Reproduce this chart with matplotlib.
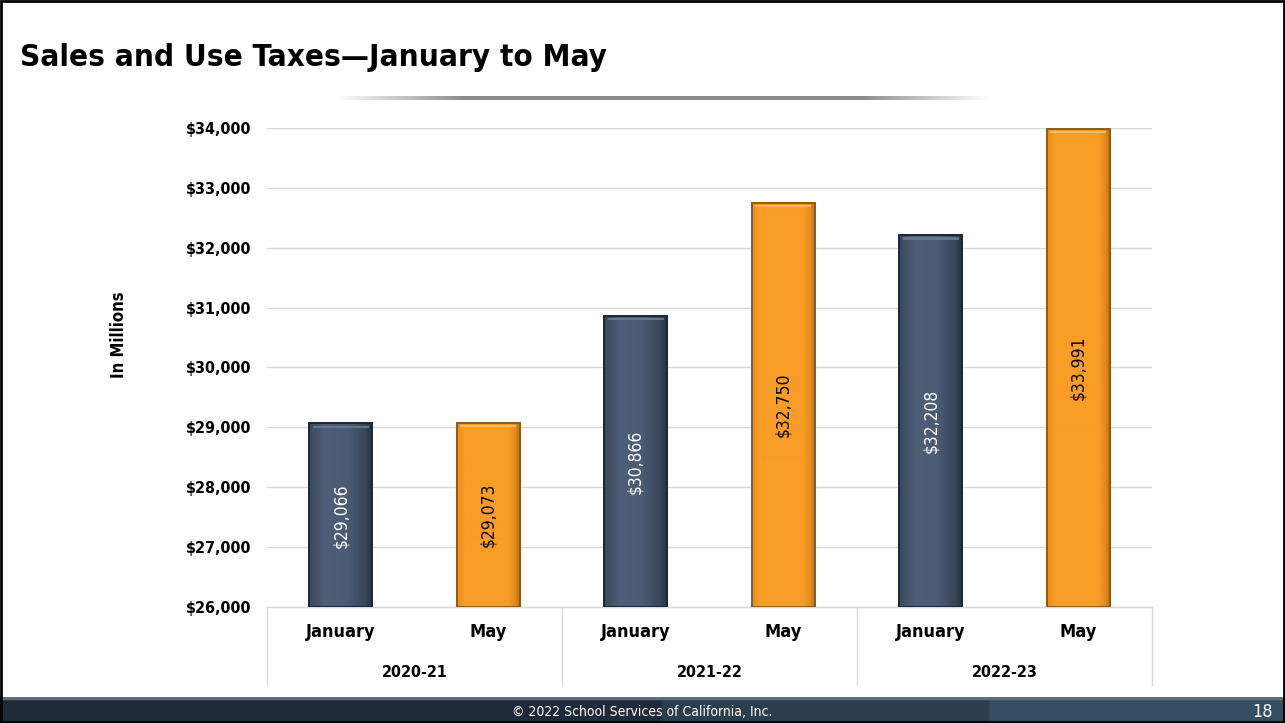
import matplotlib
matplotlib.use("Agg")
import matplotlib.pyplot as plt
from matplotlib import font_manager
import numpy as np
from matplotlib.patches import Rectangle
from matplotlib.colors import LinearSegmentedColormap

# Data
years = ["2020-21", "2021-22", "2022-23"]
months = ["January", "May"]
values = [29066, 29073, 30866, 32750, 32208, 33991]
value_labels = ["$29,066", "$29,073", "$30,866", "$32,750", "$32,208", "$33,991"]
yticks = [26000, 27000, 28000, 29000, 30000, 31000, 32000, 33000, 34000]
ytick_labels = ["$26,000", "$27,000", "$28,000", "$29,000", "$30,000",
                "$31,000", "$32,000", "$33,000", "$34,000"]

# prefer a narrow sans face when one is available
_installed = {(f.name, str(f.stretch)) for f in font_manager.fontManager.ttflist}
_names = {n for n, _ in _installed}
STRETCH = "normal"
if "Liberation Sans Narrow" in _names:
    FONT = ["Liberation Sans Narrow", "DejaVu Sans"]
elif ("DejaVu Sans", "condensed") in _installed or ("DejaVu Sans", "semi-condensed") in _installed:
    FONT = ["DejaVu Sans"]
    STRETCH = "condensed"
else:
    FONT = ["Liberation Sans", "DejaVu Sans"]
plt.rcParams["font.family"] = FONT
plt.rcParams["font.stretch"] = STRETCH

navy = "#4b5b71"
navy_edge = "#1e2836"
orange = "#f99d26"
orange_edge = "#8a5c22"
navy_cmap = LinearSegmentedColormap.from_list(
    "navy", [(0, "#3c495c"), (0.25, "#4d5e77"), (0.6, "#4a5b73"), (0.88, "#3a475a"), (1, "#243040")])
orange_cmap = LinearSegmentedColormap.from_list(
    "orng", [(0, "#e98c1c"), (0.12, "#f99d26"), (0.8, "#f99d26"), (0.92, "#e48a1d"), (1, "#b06f1e")])

fig = plt.figure(figsize=(12.85, 7.23), dpi=100)
fig.patch.set_facecolor("white")

ax = fig.add_axes([267 / 1285, 1 - 607 / 723, (1152 - 267) / 1285, (607 - 128) / 723])

x = np.arange(6) + 0.5
colors = [navy, orange] * 3
edges = [navy_edge, orange_edge] * 3
cmaps = [navy_cmap, orange_cmap] * 3
bars = ax.bar(x, [v - 26000 for v in values], bottom=26000, width=0.43,
              color=colors, edgecolor=edges, linewidth=1.4, zorder=3)

# shaded faces and a bevel highlight along the top of each bar
ramp = np.linspace(0, 1, 64)[None, :]
for b, c, cm, ec in zip(bars, colors, cmaps, edges):
    x0, w = b.get_x(), b.get_width()
    y0 = b.get_y()
    top = y0 + b.get_height()
    ax.imshow(ramp, cmap=cm, aspect="auto", extent=[x0, x0 + w, y0, top],
              zorder=3.1, interpolation="bilinear")
    hl = "#fbc060" if c == orange else "#6c7c92"
    ax.add_patch(Rectangle((x0 + 0.025, top - 75), w - 0.05, 40,
                           facecolor=hl, edgecolor="none", zorder=3.2, alpha=0.85))
    ax.add_patch(Rectangle((x0, y0), w, top - y0, fill=False, edgecolor=ec,
                           linewidth=1.4, zorder=3.3))

ax.set_xlim(0, 6)
ax.set_ylim(26000, 34000)

# values written inside bars
for xi, v, lab, c in zip(x, values, value_labels, colors):
    ax.text(xi, (26000 + v) / 2, lab, rotation=90, ha="center", va="center",
            fontsize=12.5, color="white" if c == navy else "black", zorder=5)

ax.set_yticks(yticks)
ax.set_yticklabels(ytick_labels, fontsize=11.5, fontweight="bold")
ax.tick_params(axis="y", length=0, pad=11)
ax.set_xticks([])
ax.grid(axis="y", color="#d9d9d9", linewidth=1, zorder=0)
for s in ["left", "right", "top"]:
    ax.spines[s].set_visible(False)
ax.spines["bottom"].set_color("#d9d9d9")
ax.spines["bottom"].set_linewidth(1)

# two-level category axis
tr = ax.get_xaxis_transform()
for gx in [0, 2, 4, 6]:
    ax.plot([gx, gx], [0, -0.163], transform=tr, color="#d9d9d9", linewidth=1, clip_on=False)
for i, xi in enumerate(x):
    ax.text(xi, -0.052, months[i % 2], transform=tr, ha="center", va="center",
            fontsize=13, fontweight="bold")
for j, yr in enumerate(years):
    ax.text(2 * j + 1, -0.136, yr, transform=tr, ha="center", va="center",
            fontsize=11.5, fontweight="bold")

ax.set_ylabel("In Millions", fontsize=12, fontweight="bold")
ax.yaxis.set_label_coords((128 - 267) / 885, (607 - 335) / 479)

# title and decorative rule
fig.text(20 / 1285, 1 - 58 / 723, "Sales and Use Taxes\u2014January to May",
         fontsize=22.5, fontweight="bold", ha="left", va="center")
rule = fig.add_axes([335 / 1285, 1 - 100 / 723, (990 - 335) / 1285, 4 / 723])
grad = np.concatenate([np.linspace(0.0, 1, 40), np.ones(120), np.linspace(1, 0.0, 40)])
rule.imshow(grad[None, :], aspect="auto",
            cmap=LinearSegmentedColormap.from_list("r", ["#ffffff", "#8c8c8c"]))
rule.axis("off")

# footer band
foot = fig.add_axes([0, 0, 1, 26 / 723])
fx = np.linspace(0, 1, 400)
fg = np.where(fx < 0.515, 0.0, np.where(fx < 0.77, 0.45, 0.85))
foot.imshow(fg[None, :], aspect="auto", extent=[0, 1, 0, 0.92],
            cmap=LinearSegmentedColormap.from_list("f", ["#1f2b38", "#3c5468"]),
            vmin=0, vmax=1, interpolation="bilinear")
foot.axhspan(0.92, 1.0, color="#5f6f7e")
foot.set_xlim(0, 1)
foot.set_ylim(0, 1)
foot.axis("off")
foot.text(0.5, 0.44, "\u00a9 2022 School Services of California, Inc.", color="white",
          fontsize=10, ha="center", va="center")
foot.text(1262 / 1285, 0.44, "18", color="white", fontsize=13, ha="center", va="center")

# outer frame
fig.add_artist(Rectangle((0.001, 0.001), 0.998, 0.997, transform=fig.transFigure,
                         fill=False, edgecolor="black", linewidth=2))

fig.savefig("out.png", dpi=100)
